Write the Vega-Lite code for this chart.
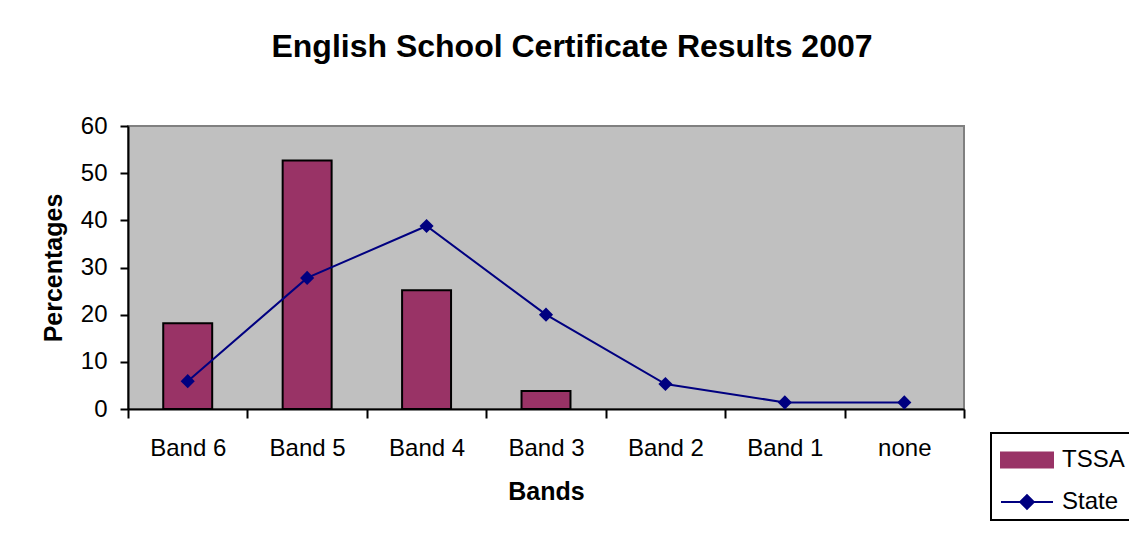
{
  "$schema": "https://vega.github.io/schema/vega-lite/v6.json",
  "width": 836,
  "height": 283,
  "autosize": "none",
  "padding": {"left": 128, "top": 126, "right": 165, "bottom": 127},
  "background": "white",
  "title": {
    "text": "English School Certificate Results 2007",
    "font": "Liberation Sans",
    "fontSize": 32,
    "fontWeight": "bold",
    "color": "black",
    "anchor": "middle",
    "dx": 26,
    "offset": 50
  },
  "data": {
    "values": [
      {"band": "Band 6", "series": "TSSA", "value": 18.2},
      {"band": "Band 5", "series": "TSSA", "value": 52.7},
      {"band": "Band 4", "series": "TSSA", "value": 25.2},
      {"band": "Band 3", "series": "TSSA", "value": 3.8},
      {"band": "Band 2", "series": "TSSA", "value": 0},
      {"band": "Band 1", "series": "TSSA", "value": 0},
      {"band": "none", "series": "TSSA", "value": 0},
      {"band": "Band 6", "series": "State", "value": 5.9},
      {"band": "Band 5", "series": "State", "value": 27.8},
      {"band": "Band 4", "series": "State", "value": 38.8},
      {"band": "Band 3", "series": "State", "value": 20.0},
      {"band": "Band 2", "series": "State", "value": 5.3},
      {"band": "Band 1", "series": "State", "value": 1.4},
      {"band": "none", "series": "State", "value": 1.4}
    ]
  },
  "encoding": {
    "x": {
      "field": "band",
      "type": "nominal",
      "sort": ["Band 6", "Band 5", "Band 4", "Band 3", "Band 2", "Band 1", "none"],
      "scale": {"paddingInner": 0, "paddingOuter": 0},
      "axis": {
        "title": "Bands",
        "labelAngle": 0,
        "tickBand": "extent",
        "tickSize": 9,
        "labelPadding": 18,
        "titlePadding": 19
      }
    },
    "y": {
      "field": "value",
      "type": "quantitative",
      "scale": {"domain": [0, 60], "nice": false},
      "axis": {
        "title": "Percentages",
        "values": [0, 10, 20, 30, 40, 50, 60],
        "tickSize": 8,
        "labelPadding": 13,
        "titlePadding": 14,
        "grid": false
      }
    },
    "color": {
      "field": "series",
      "type": "nominal",
      "scale": {"domain": ["TSSA", "State"], "range": ["#993366", "#000080"]},
      "legend": {
        "title": null,
        "orient": "none",
        "legendX": 863,
        "legendY": 307,
        "padding": 6,
        "rowPadding": 9,
        "symbolOffset": 9,
        "symbolSize": 1600,
        "labelOffset": 14,
        "labelFont": "Liberation Sans",
        "labelFontSize": 24,
        "labelColor": "black",
        "strokeColor": "black",
        "fillColor": "white",
        "cornerRadius": 0,
        "symbolStrokeWidth": 2,
        "encode": {
          "legend": {"update": {"strokeWidth": {"value": 2}}},
          "symbols": {
            "update": {
              "shape": {"signal": "datum.value === 'TSSA' ? 'M-1.3,-0.38H1.3V0.38H-1.3Z' : 'M-1.3,0H1.3M-0.34,0L0,-0.34L0.34,0L0,0.34Z'"},
              "stroke": {"signal": "datum.value === 'TSSA' ? 'black' : '#000080'"},
              "fill": {"signal": "datum.value === 'TSSA' ? '#993366' : '#000080'"},
              "strokeWidth": {"value": 2},
              "opacity": {"value": 1},
              "strokeOpacity": {"value": 1},
              "fillOpacity": {"value": 1}
            }
          }
        }
      }
    }
  },
  "layer": [
    {
      "transform": [{"filter": "datum.series === 'TSSA' && datum.value > 0"}],
      "mark": {"type": "bar", "width": {"band": 0.41}, "stroke": "black", "strokeWidth": 2, "opacity": 1}
    },
    {
      "transform": [{"filter": "datum.series === 'State'"}],
      "mark": {
        "type": "line",
        "strokeWidth": 2,
        "point": {"filled": true, "shape": "diamond", "size": 200, "opacity": 1}
      }
    }
  ],
  "config": {
    "font": "Liberation Sans",
    "view": {"fill": "#C0C0C0", "stroke": "#808080", "strokeWidth": 2},
    "axis": {
      "domainColor": "black",
      "domainWidth": 2,
      "tickColor": "black",
      "tickWidth": 2,
      "labelFont": "Liberation Sans",
      "labelFontSize": 24,
      "labelColor": "black",
      "titleFont": "Liberation Sans",
      "titleFontSize": 25,
      "titleFontWeight": "bold",
      "titleColor": "black"
    }
  }
}
